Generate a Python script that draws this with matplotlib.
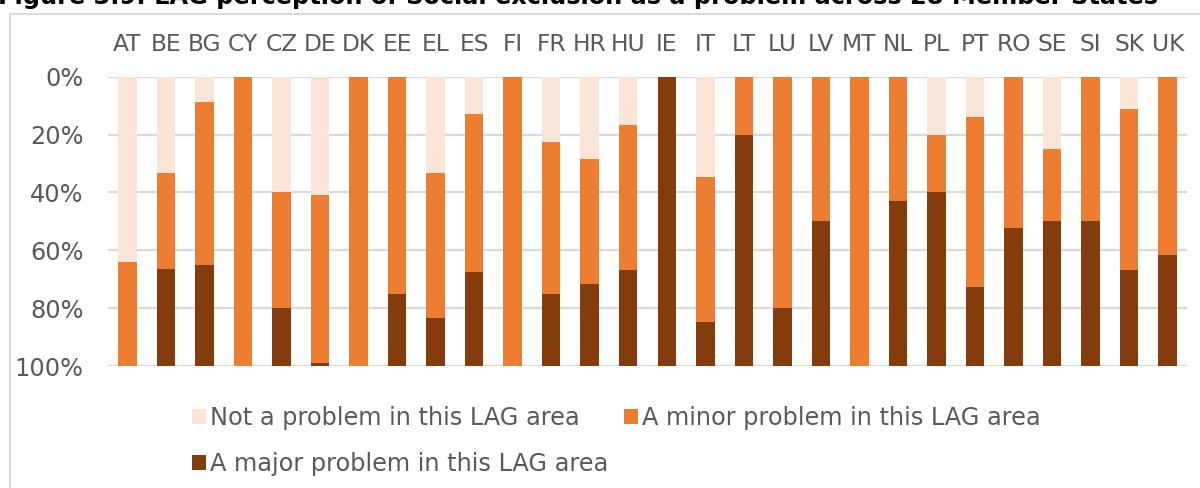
import matplotlib
matplotlib.use("Agg")
import matplotlib.pyplot as plt
from matplotlib.patches import Rectangle, Patch

countries = ["AT", "BE", "BG", "CY", "CZ", "DE", "DK", "EE", "EL", "ES",
             "FI", "FR", "HR", "HU", "IE", "IT", "LT", "LU", "LV", "MT",
             "NL", "PL", "PT", "RO", "SE", "SI", "SK", "UK"]

# Share of LAGs (%) per answer
not_a_problem = [64.1, 33.3, 8.7, 0, 40.0, 40.8, 0, 0, 33.3, 12.9,
                 0, 22.7, 28.6, 16.7, 0, 34.6, 0, 0, 0, 0,
                 0, 20.0, 14.0, 0, 25.0, 0, 11.1, 0]
minor_problem = [35.9, 33.3, 56.5, 100, 40.0, 58.1, 100, 75.0, 50.0, 54.6,
                 100, 52.3, 42.9, 50.0, 0, 50.2, 20.0, 80.0, 50.0, 100,
                 43.0, 20.0, 58.8, 52.4, 25.0, 50.0, 55.6, 61.7]
major_problem = [0, 33.4, 34.8, 0, 20.0, 1.1, 0, 25.0, 16.7, 32.5,
                 0, 25.0, 28.5, 33.3, 100, 15.2, 80.0, 20.0, 50.0, 0,
                 57.0, 60.0, 27.2, 47.6, 50.0, 50.0, 33.3, 38.3]

series_labels = ["Not a problem in this LAG area",
                 "A minor problem in this LAG area",
                 "A major problem in this LAG area"]
y_ticks = [0, 20, 40, 60, 80, 100]
title = "Figure 3.9: LAG perception of Social exclusion as a problem across 28 Member States"

c_not = "#FBE5D6"
c_minor = "#ED7D31"
c_major = "#843C0C"
grey_txt = "#595959"
grid_col = "#D9D9D9"

W, H = 1200, 488
fig = plt.figure(figsize=(W / 100, H / 100), dpi=100)
fig.patch.set_facecolor("white")

# Chart border
fig.patches.append(Rectangle((10 / W, -0.1), 1.2, 1 - 14 / H + 0.1,
                             transform=fig.transFigure, fill=False,
                             edgecolor=grid_col, linewidth=1.5))

fig.text(-0.002, 1 - 4 / H, title, fontsize=17.3, fontweight="bold",
         color="black", ha="left", va="baseline")

ax = fig.add_axes([108 / W, 1 - 366 / H, (1187 - 108) / W, (366 - 76.7) / H])
x = list(range(len(countries)))
bw = 0.48
ax.bar(x, not_a_problem, bw, color=c_not, label=series_labels[0], zorder=3)
ax.bar(x, minor_problem, bw, bottom=not_a_problem, color=c_minor,
       label=series_labels[1], zorder=3)
bottom3 = [a + b for a, b in zip(not_a_problem, minor_problem)]
ax.bar(x, major_problem, bw, bottom=bottom3, color=c_major,
       label=series_labels[2], zorder=3)

ax.set_ylim(100, 0)
ax.set_xlim(-0.5, len(countries) - 0.5)
ax.set_yticks(y_ticks)
ax.set_yticklabels([f"{v}%" for v in y_ticks])
ax.xaxis.tick_top()
ax.set_xticks(x)
ax.set_xticklabels(countries)
ax.tick_params(axis="y", length=0, pad=17.5, labelsize=17.3, labelcolor=grey_txt)
ax.tick_params(axis="x", length=0, pad=15, labelsize=16.8, labelcolor=grey_txt)
for s in ax.spines.values():
    s.set_visible(False)
ax.yaxis.grid(True, color=grid_col, linewidth=1.6, zorder=0)
ax.set_axisbelow(True)
ax.set_facecolor("none")

handles = [Patch(facecolor=c_not), Patch(facecolor=c_major), Patch(facecolor=c_minor)]
labels = [series_labels[0], series_labels[2], series_labels[1]]
fig.legend(handles, labels, ncol=2, loc="upper left",
           bbox_to_anchor=(192 / W, 1 - 406 / H), frameon=False,
           fontsize=17.3, labelcolor=grey_txt, handlelength=0.58,
           handleheight=0.58, handletextpad=0.17, columnspacing=0.65,
           labelspacing=0.9, borderaxespad=0, borderpad=0)

fig.savefig("out.png", dpi=100, facecolor="white")
